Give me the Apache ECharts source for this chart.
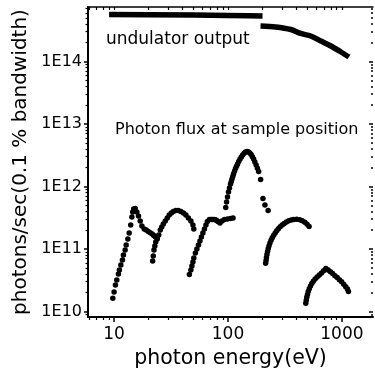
<!DOCTYPE html>
<html>
<head>
<meta charset="utf-8">
<script src="https://cdn.jsdelivr.net/npm/echarts@6/dist/echarts.min.js"></script>
<style>
html,body{margin:0;padding:0;background:#fff;}
#chart{width:375px;height:374px;}
</style>
</head>
<body>
<div id="chart"></div>
<script>
// ---- axis ticks ----
const xTickValues = [10, 100, 1000];
const xTickLabels = ['10', '100', '1000'];
const yTickValues = [1e10, 1e11, 1e12, 1e13, 1e14];
const yTickLabels = ['1E10', '1E11', '1E12', '1E13', '1E14'];
const xRange = [5.9, 1875];
const yRange = [8.17e9, 7.45e14];

// ---- undulator output (two branches) ----
const undEnergy1 = [9.04, 20, 50, 100, 150, 201];
const undFlux1   = [5.65e14, 5.62e14, 5.55e14, 5.47e14, 5.40e14, 5.35e14];
const undEnergy2 = [193, 262, 356, 435, 533, 653, 800, 980, 1153];
const undFlux2   = [3.70e14, 3.57e14, 3.25e14, 2.81e14, 2.56e14, 2.13e14, 1.77e14, 1.42e14, 1.18e14];

// ---- photon flux at sample position (six branches) ----
const fluxEnergyA = [9.74,10.0,10.27,10.56,10.91,11.13,11.46,11.83,12.07,12.5,12.76,13.2,13.56,13.98,14.32,14.56,14.85,15.31,15.85,16.37,16.94,17.54,18.37,19.14,19.96,20.77,21.6,22.3,22.97,23.8];
const fluxValueA  = [1.63e10,2.05e10,2.65e10,3.19e10,3.98e10,4.61e10,5.55e10,6.67e10,8.02e10,9.64e10,1.16e11,1.45e11,1.80e11,2.42e11,3.25e11,3.91e11,4.37e11,4.45e11,3.91e11,3.38e11,2.81e11,2.34e11,2.09e11,2.01e11,1.91e11,1.82e11,1.74e11,1.64e11,1.57e11,1.50e11];

const fluxEnergyB = [21.8,22.06,22.39,22.77,23.21,23.93,24.67,25.43,26.21,27.03,28.14,29.3,30.5,31.8,33.1,34.8,36.6,38.6,40.6,42.7,44.9,47.2,49.2,50.1];
const fluxValueB  = [6.43e10,7.73e10,9.64e10,1.12e11,1.29e11,1.45e11,1.67e11,2.01e11,2.25e11,2.51e11,2.81e11,3.13e11,3.50e11,3.77e11,3.98e11,4.13e11,4.13e11,3.98e11,3.77e11,3.50e11,3.13e11,2.81e11,2.42e11,2.09e11];

const fluxEnergyC = [45.8,47.2,48.2,49.2,50.1,51.7,53.3,55.0,56.7,58.4,60.2,62.1,64.0,65.9,68.7,71.0,73.0,75.3,77.6,79.6,81.6,85.0,88.5,93.1,99.0,105.2,110.7];
const fluxValueC  = [3.91e10,4.61e10,5.35e10,6.19e10,7.18e10,8.63e10,1.0e11,1.16e11,1.34e11,1.56e11,1.80e11,2.09e11,2.42e11,2.75e11,2.97e11,2.97e11,2.97e11,2.97e11,2.95e11,2.85e11,2.75e11,2.61e11,2.81e11,2.97e11,3.02e11,3.08e11,3.13e11];

const fluxEnergyD = [95.5,97.1,99.0,101,103,105.2,106.9,108.4,110.2,111.7,114.1,116.4,118.8,121.3,124.3,127.6,131,134.4,138.4,142.6,147.1,151.6,155.6,159.6,163.7,167.8,172.2,176.6,181.2,185.8,193.3,202.6,211,225];
const fluxValueD  = [4.61e11,5.65e11,6.79e11,8.17e11,9.47e11,1.10e12,1.20e12,1.32e12,1.45e12,1.58e12,1.76e12,1.94e12,2.11e12,2.29e12,2.51e12,2.75e12,2.97e12,3.19e12,3.40e12,3.56e12,3.63e12,3.56e12,3.44e12,3.25e12,3.00e12,2.75e12,2.47e12,2.21e12,1.96e12,1.74e12,1.29e12,6.43e11,5.06e11,4.13e11];

const fluxEnergyE = [214,215.8,217.6,219.8,222.5,225.6,229.3,233.5,238.8,244.7,251.8,259.6,267.6,277,287.3,299.2,311.6,325.8,341.2,359,377.6,401.3,426.6,448.7,472.1,494.6,515];
const fluxValueE  = [5.90e10,6.55e10,7.31e10,8.17e10,9.12e10,1.02e11,1.13e11,1.25e11,1.38e11,1.51e11,1.66e11,1.80e11,1.96e11,2.11e11,2.27e11,2.42e11,2.57e11,2.70e11,2.83e11,2.91e11,2.97e11,2.98e11,2.93e11,2.83e11,2.67e11,2.49e11,2.29e11];

const fluxEnergyF = [481.7,486.6,491.6,498.7,506.8,517.2,529.9,544.1,560.9,581.8,605.9,633.6,662.5,691.3,722.8,757.4,792,828.1,867.6,909.1,950.6,994,1037,1080,1118,1141];
const fluxValueF  = [1.35e10,1.51e10,1.69e10,1.88e10,2.09e10,2.32e10,2.56e10,2.81e10,3.05e10,3.31e10,3.57e10,3.84e10,4.13e10,4.48e10,4.88e10,4.61e10,4.33e10,4.04e10,3.75e10,3.49e10,3.23e10,2.98e10,2.73e10,2.50e10,2.29e10,2.09e10];

// ---- helpers ----
const zip = (a, b) => a.map((v, i) => [v, b[i]]);
const fluxPoints = [].concat(
  zip(fluxEnergyA, fluxValueA), zip(fluxEnergyB, fluxValueB), zip(fluxEnergyC, fluxValueC),
  zip(fluxEnergyD, fluxValueD), zip(fluxEnergyE, fluxValueE), zip(fluxEnergyF, fluxValueF)
);
function minorLogTicks(range) {
  const out = [];
  const lo = Math.floor(Math.log10(range[0])), hi = Math.ceil(Math.log10(range[1]));
  for (let d = lo; d <= hi; d++) {
    for (let m = 2; m <= 9; m++) {
      const v = m * Math.pow(10, d);
      if (v >= range[0] && v <= range[1]) out.push(v);
    }
  }
  return out;
}
const xMinor = minorLogTicks(xRange);
const yMinor = minorLogTicks(yRange);
function labelFor(values, labels) {
  return v => {
    let best = 0, bd = Infinity;
    values.forEach((t, i) => { const d = Math.abs(Math.log10(t) - Math.log10(v)); if (d < bd) { bd = d; best = i; } });
    return labels[best];
  };
}
const FONT = "'DejaVu Sans', sans-serif";
const BLACK = '#000';

function baseX(extra) {
  return Object.assign({
    type: 'log', min: xRange[0], max: xRange[1], gridIndex: 0,
    splitLine: { show: false }, axisLabel: { show: false },
    axisLine: { show: false }, axisTick: { show: false }
  }, extra);
}
function baseY(extra) {
  return Object.assign({
    type: 'log', min: yRange[0], max: yRange[1], gridIndex: 0,
    splitLine: { show: false }, axisLabel: { show: false },
    axisLine: { show: false }, axisTick: { show: false }
  }, extra);
}

const chart = echarts.init(document.getElementById('chart'), null, { renderer: 'canvas' });
chart.setOption({
  animation: false,
  backgroundColor: '#fff',
  grid: { left: 88, right: 2, top: 7, bottom: 57, containLabel: false },
  xAxis: [
    baseX({
      position: 'bottom',
      axisLine: { show: true, onZero: false, lineStyle: { color: BLACK, width: 2 } },
      axisTick: { show: true, inside: false, length: 5, lineStyle: { color: BLACK, width: 1.5 }, customValues: xTickValues },
      axisLabel: { show: true, customValues: xTickValues, formatter: labelFor(xTickValues, xTickLabels), margin: 9,
        color: BLACK, fontSize: 17, fontFamily: FONT },
      name: 'photon energy(eV)', nameLocation: 'middle', nameGap: 30,
      nameTextStyle: { color: BLACK, fontSize: 20.5, fontFamily: FONT }
    }),
    baseX({
      position: 'bottom',
      axisTick: { show: true, inside: false, length: 3, lineStyle: { color: BLACK, width: 1.2 }, customValues: xMinor }
    }),
    baseX({
      position: 'top',
      axisLine: { show: true, onZero: false, lineStyle: { color: BLACK, width: 1.5 } },
      axisTick: { show: true, inside: true, length: 3, lineStyle: { color: BLACK, width: 1.2 }, customValues: xMinor.concat(xTickValues) }
    })
  ],
  yAxis: [
    baseY({
      position: 'left',
      axisLine: { show: true, onZero: false, lineStyle: { color: BLACK, width: 2 } },
      axisTick: { show: true, inside: false, length: 4, lineStyle: { color: BLACK, width: 1.5 }, customValues: yTickValues },
      axisLabel: { show: true, customValues: yTickValues, formatter: labelFor(yTickValues, yTickLabels), margin: 6,
        color: BLACK, fontSize: 16, fontFamily: FONT },
      name: 'photons/sec(0.1 % bandwidth)', nameLocation: 'middle', nameGap: 51,
      nameTextStyle: { color: BLACK, fontSize: 20, fontFamily: FONT }
    }),
    baseY({
      position: 'left',
      axisTick: { show: true, inside: false, length: 2.5, lineStyle: { color: BLACK, width: 1.2 }, customValues: yMinor }
    }),
    baseY({
      position: 'right',
      axisTick: { show: true, inside: true, length: 4, lineStyle: { color: BLACK, width: 1.5 }, customValues: yTickValues }
    }),
    baseY({
      position: 'right',
      axisTick: { show: true, inside: true, length: 2, lineStyle: { color: BLACK, width: 1.5 }, customValues: yMinor }
    })
  ],
  graphic: [
    { type: 'text', x: 106, y: 40, silent: true,
      style: { text: 'undulator output', font: "17px 'DejaVu Sans'", fill: BLACK, textAlign: 'left', textVerticalAlign: 'middle' } },
    { type: 'text', x: 115, y: 130, silent: true,
      style: { text: 'Photon flux at sample position', font: "16px 'DejaVu Sans'", fill: BLACK, textAlign: 'left', textVerticalAlign: 'middle' } }
  ],
  series: [
    { type: 'line', name: 'undulator output', xAxisIndex: 0, yAxisIndex: 0, data: zip(undEnergy1, undFlux1),
      showSymbol: false, symbol: 'none', lineStyle: { color: BLACK, width: 5.5, cap: 'butt' }, z: 3 },
    { type: 'line', name: 'undulator output 2', xAxisIndex: 0, yAxisIndex: 0, data: zip(undEnergy2, undFlux2),
      showSymbol: false, symbol: 'none', smooth: 0.3, lineStyle: { color: BLACK, width: 5.5, cap: 'butt' }, z: 3 },
    { type: 'scatter', name: 'Photon flux', xAxisIndex: 0, yAxisIndex: 0, data: fluxPoints,
      symbol: 'circle', symbolSize: 5.5, itemStyle: { color: BLACK, opacity: 1 }, z: 4 }
  ]
});
</script>
</body>
</html>
